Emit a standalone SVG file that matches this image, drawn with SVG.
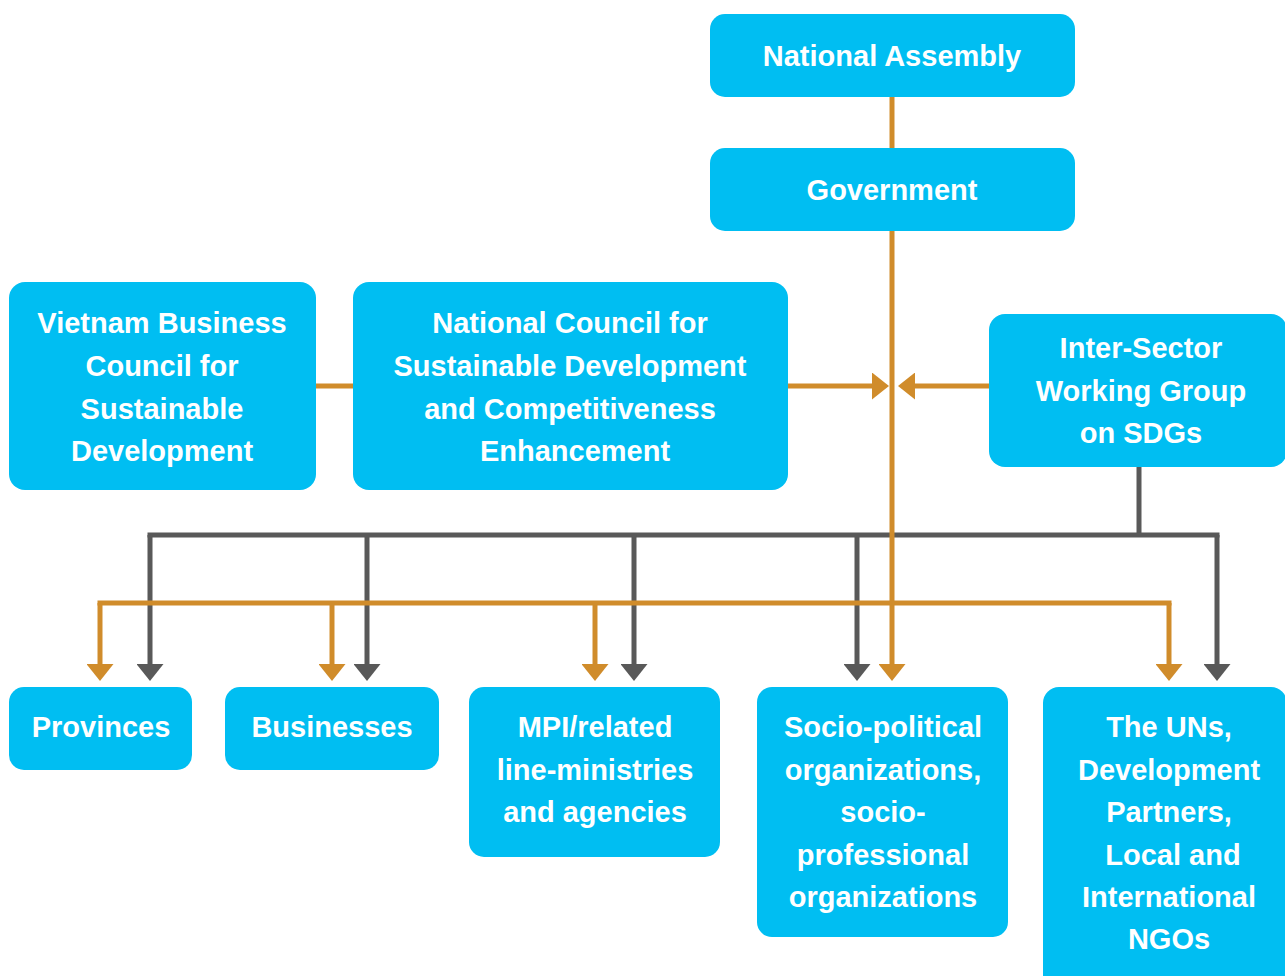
<svg xmlns="http://www.w3.org/2000/svg" width="1285" height="976" viewBox="0 0 1285 976">
<style>
.box{fill:#00BEF2}
.t{font-family:"Liberation Sans",Arial,sans-serif;font-weight:bold;font-size:29px;fill:#fff;text-anchor:middle}
.o{stroke:#D08C2B;stroke-width:5;fill:none}
.g{stroke:#595959;stroke-width:5;fill:none}
</style>
<defs>
<marker id="ao" viewBox="0 0 17 27" markerWidth="17" markerHeight="27" refX="0" refY="13.5" orient="auto" markerUnits="userSpaceOnUse"><path d="M0,0 L17,13.5 L0,27 z" fill="#D08C2B"/></marker>
<marker id="ag" viewBox="0 0 17 27" markerWidth="17" markerHeight="27" refX="0" refY="13.5" orient="auto" markerUnits="userSpaceOnUse"><path d="M0,0 L17,13.5 L0,27 z" fill="#595959"/></marker>
</defs>
<rect width="1285" height="976" fill="#fff"/>
<g id="connectors">
<path class="o" d="M892,97 V148"/>
<path class="o" d="M316,386 H353"/>
<path class="o" d="M788,386 H872" marker-end="url(#ao)"/>
<path class="o" d="M989,386 H915" marker-end="url(#ao)"/>
<path class="g" d="M1139,467 V535"/>
<path class="g" d="M147.5,535 H1219.5"/>
<path class="g" d="M150,535 V664" marker-end="url(#ag)"/>
<path class="g" d="M367,535 V664" marker-end="url(#ag)"/>
<path class="g" d="M634,535 V664" marker-end="url(#ag)"/>
<path class="g" d="M857,535 V664" marker-end="url(#ag)"/>
<path class="g" d="M1217,535 V664" marker-end="url(#ag)"/>
<path class="o" d="M892,231 V664" marker-end="url(#ao)"/>
<path class="o" d="M97.5,603 H1171.5"/>
<path class="o" d="M100,603 V664" marker-end="url(#ao)"/>
<path class="o" d="M332,603 V664" marker-end="url(#ao)"/>
<path class="o" d="M595,603 V664" marker-end="url(#ao)"/>
<path class="o" d="M1169,603 V664" marker-end="url(#ao)"/>
</g>
<g id="national-assembly"><rect class="box" x="710" y="14" width="365" height="83" rx="15"/><text class="t" x="892" y="66">National Assembly</text></g>
<g id="government"><rect class="box" x="710" y="148" width="365" height="83" rx="15"/><text class="t" x="892" y="200">Government</text></g>
<g id="vbcsd"><rect class="box" x="9" y="282" width="307" height="208" rx="16"/>
<text class="t" x="162" y="333">Vietnam Business</text><text class="t" x="162" y="376">Council for</text><text class="t" x="162" y="419">Sustainable</text><text class="t" x="162" y="461">Development</text></g>
<g id="ncsd"><rect class="box" x="353" y="282" width="435" height="208" rx="16"/>
<text class="t" x="570" y="333">National Council for</text><text class="t" x="570" y="376">Sustainable Development</text><text class="t" x="570" y="419">and Competitiveness</text><text class="t" x="575" y="461">Enhancement</text></g>
<g id="inter-sector"><rect class="box" x="989" y="314" width="298" height="153" rx="16"/>
<text class="t" x="1141" y="358">Inter-Sector</text><text class="t" x="1141" y="401">Working Group</text><text class="t" x="1141" y="443">on SDGs</text></g>
<g id="provinces"><rect class="box" x="9" y="687" width="183" height="83" rx="15"/><text class="t" x="101" y="737">Provinces</text></g>
<g id="businesses"><rect class="box" x="225" y="687" width="214" height="83" rx="15"/><text class="t" x="332" y="737">Businesses</text></g>
<g id="mpi"><rect class="box" x="469" y="687" width="251" height="170" rx="15"/>
<text class="t" x="595" y="737">MPI/related</text><text class="t" x="595" y="780">line-ministries</text><text class="t" x="595" y="822">and agencies</text></g>
<g id="socio"><rect class="box" x="757" y="687" width="251" height="250" rx="15"/>
<text class="t" x="883" y="737">Socio-political</text><text class="t" x="883" y="780">organizations,</text><text class="t" x="883" y="822">socio-</text><text class="t" x="883" y="865">professional</text><text class="t" x="883" y="907">organizations</text></g>
<g id="uns"><rect class="box" x="1043" y="687" width="244" height="310" rx="16"/>
<text class="t" x="1169" y="737">The UNs,</text><text class="t" x="1169" y="780">Development</text><text class="t" x="1169" y="822">Partners,</text><text class="t" x="1173" y="865">Local and</text><text class="t" x="1169" y="907">International</text><text class="t" x="1169" y="949">NGOs</text></g>
</svg>
